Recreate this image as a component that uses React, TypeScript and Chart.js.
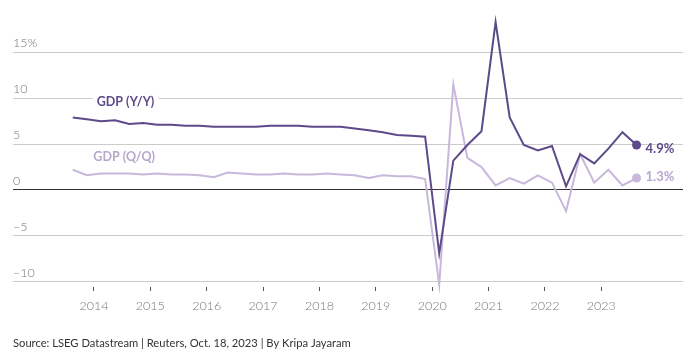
import React, { useEffect, useRef } from "react";
import { Chart, registerables } from "chart.js";

Chart.register(...registerables);

const quarterLabels = [
  "2013 Q3", "2013 Q4",
  "2014 Q1", "2014 Q2", "2014 Q3", "2014 Q4",
  "2015 Q1", "2015 Q2", "2015 Q3", "2015 Q4",
  "2016 Q1", "2016 Q2", "2016 Q3", "2016 Q4",
  "2017 Q1", "2017 Q2", "2017 Q3", "2017 Q4",
  "2018 Q1", "2018 Q2", "2018 Q3", "2018 Q4",
  "2019 Q1", "2019 Q2", "2019 Q3", "2019 Q4",
  "2020 Q1", "2020 Q2", "2020 Q3", "2020 Q4",
  "2021 Q1", "2021 Q2", "2021 Q3", "2021 Q4",
  "2022 Q1", "2022 Q2", "2022 Q3", "2022 Q4",
  "2023 Q1", "2023 Q2", "2023 Q3",
];

const gdpYoY = [
  7.9, 7.7,
  7.5, 7.6, 7.2, 7.3,
  7.1, 7.1, 7.0, 7.0,
  6.9, 6.9, 6.9, 6.9,
  7.0, 7.0, 7.0, 6.9,
  6.9, 6.9, 6.7, 6.5,
  6.3, 6.0, 5.9, 5.8,
  -6.9, 3.2, 4.9, 6.4,
  18.3, 7.9, 4.9, 4.3,
  4.8, 0.4, 3.9, 2.9,
  4.5, 6.3, 4.9,
];

const gdpQoQ = [
  2.2, 1.6,
  1.8, 1.8, 1.8, 1.7,
  1.8, 1.7, 1.7, 1.6,
  1.4, 1.9, 1.8, 1.7,
  1.7, 1.8, 1.7, 1.7,
  1.8, 1.7, 1.6, 1.3,
  1.6, 1.5, 1.5, 1.2,
  -10.3, 11.5, 3.5, 2.5,
  0.5, 1.3, 0.7, 1.6,
  0.8, -2.3, 3.9, 0.8,
  2.2, 0.5, 1.3,
];

const yTicks = [-10, -5, 0, 5, 10, 15];
const xTicks = [2014, 2015, 2016, 2017, 2018, 2019, 2020, 2021, 2022, 2023];

const seriesNames = ["GDP (Y/Y)", "GDP (Q/Q)"];
const footerText = "Source: LSEG Datastream | Reuters, Oct. 18, 2023 | By Kripa Jayaram";

const DARK = "#5d4a8a";
const LIGHT = "#c8b9dc";
const LIGHT_TEXT = "#b6a7cc";
const FONT = "Lato, 'Open Sans', sans-serif";

function quarterToX(q: string): number {
  const [y, qq] = q.split(" Q");
  return Number(y) + (Number(qq) - 1) / 4 + 0.125;
}

export default function App() {
  const ref = useRef<HTMLCanvasElement | null>(null);

  useEffect(() => {
    if (!ref.current) return;
    const yoy = quarterLabels.map((q, i) => ({ x: quarterToX(q), y: gdpYoY[i] }));
    const qoq = quarterLabels.map((q, i) => ({ x: quarterToX(q), y: gdpQoQ[i] }));
    const last = quarterLabels.length - 1;

    const labelPlugin = {
      id: "labels",
      afterDatasetsDraw(chart: any) {
        const ctx = chart.ctx;
        const xs = chart.scales.x;
        const ys = chart.scales.y;
        ctx.save();
        const names = [
          { text: seriesNames[0], x: 2014.05, y: 9.62, color: DARK, bg: true },
          { text: seriesNames[1], x: 2013.99, y: 3.63, color: LIGHT_TEXT, bg: false },
        ];
        ctx.font = `bold 12.5px ${FONT}`;
        ctx.textBaseline = "middle";
        ctx.textAlign = "left";
        for (const n of names) {
          const px = xs.getPixelForValue(n.x);
          const py = ys.getPixelForValue(n.y);
          const w = ctx.measureText(n.text).width;
          if (n.bg) {
            ctx.fillStyle = "#ffffff";
            ctx.fillRect(px - 4, py - 8, w + 8, 16);
          }
          ctx.fillStyle = n.color;
          ctx.fillText(n.text, px, py);
        }
        ctx.font = `bold 13px ${FONT}`;
        const ends = [
          { v: gdpYoY[last], color: DARK, dy: 4 },
          { v: gdpQoQ[last], color: LIGHT_TEXT, dy: -1 },
        ];
        for (const e of ends) {
          const px = xs.getPixelForValue(quarterToX(quarterLabels[last]));
          const py = ys.getPixelForValue(e.v);
          ctx.fillStyle = e.color;
          ctx.fillText(`${e.v.toFixed(1)}%`, px + 9, py + e.dy);
        }
        ctx.restore();
      },
      afterDraw(chart: any) {
        const ctx = chart.ctx;
        ctx.save();
        ctx.font = `11.2px ${FONT}`;
        ctx.fillStyle = "#333333";
        ctx.textBaseline = "middle";
        ctx.textAlign = "left";
        ctx.fillText(footerText, 5, 335);
        ctx.restore();
      },
    };

    const chart = new Chart(ref.current, {
      type: "line",
      data: {
        datasets: [
          {
            label: seriesNames[0],
            data: yoy,
            borderColor: DARK,
            backgroundColor: DARK,
            borderWidth: 2,
            pointRadius: (c: any) => (c.dataIndex === last ? 4.5 : 0),
            pointBorderWidth: 0,
            tension: 0,
            clip: false as any,
          },
          {
            label: seriesNames[1],
            data: qoq,
            borderColor: LIGHT,
            backgroundColor: LIGHT,
            borderWidth: 2,
            pointRadius: (c: any) => (c.dataIndex === last ? 4.5 : 0),
            pointBorderWidth: 0,
            tension: 0,
            clip: false as any,
          },
        ],
      },
      plugins: [labelPlugin],
      options: {
        animation: false,
        responsive: false,
        layout: { autoPadding: false, padding: { left: 5, right: 1, top: 0, bottom: 29 } },
        plugins: {
          legend: { display: false },
          tooltip: { enabled: false },
        },
        scales: {
          x: {
            type: "linear",
            min: 2012.565,
            max: 2024.449,
            afterBuildTicks: (s: any) => {
              s.ticks = xTicks.map((v) => ({ value: v }));
            },
            grid: { drawOnChartArea: false, drawTicks: true, tickLength: 4, color: "#555", lineWidth: 1 },
            border: { display: false },
            ticks: {
              color: "#777",
              font: { family: FONT, size: 12.5, weight: "300" as any },
              padding: 7,
              autoSkip: false,
              maxRotation: 0,
              callback: (v: any) => String(v),
            },
          },
          y: {
            min: -10.57,
            max: 19.01,
            afterBuildTicks: (s: any) => {
              s.ticks = yTicks.map((v) => ({ value: v }));
            },
            grid: {
              drawTicks: false,
              color: (c: any) => (c.tick && c.tick.value === 0 ? "#333" : "#cccccc"),
              lineWidth: 1,
            },
            border: { display: false },
            ticks: {
              mirror: true,
              padding: 0,
              labelOffset: -9,
              color: "#777",
              font: { family: FONT, size: 12.5, weight: "300" as any },
              callback: (v: any) => (v === 15 ? "15%" : v < 0 ? "\u2212" + Math.abs(v) : String(v)),
            },
          },
        },
      },
    });
    return () => chart.destroy();
  }, []);

  return <canvas ref={ref} width={676} height={341} style={{ display: "block" }} />;
}
